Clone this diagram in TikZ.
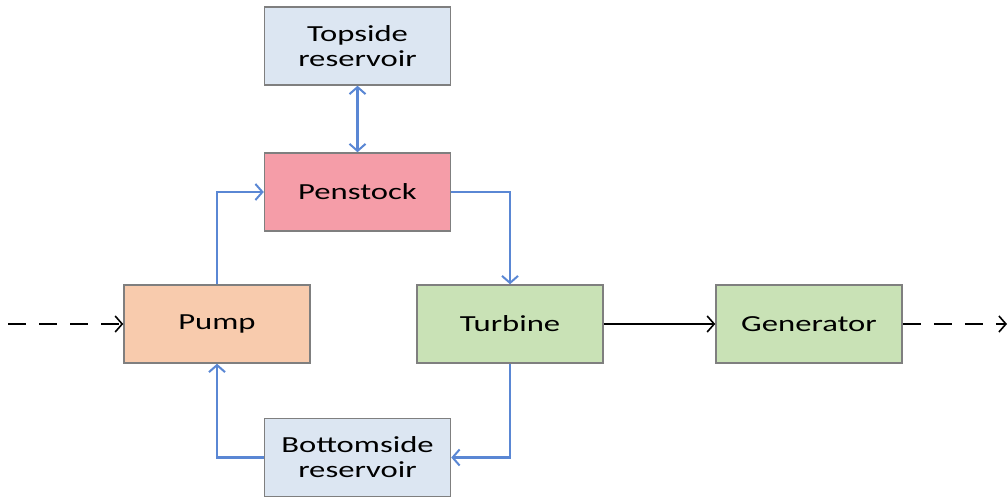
\documentclass[tikz,border=0pt]{standalone}
\usepackage{fontspec}
\setmainfont{Carlito}[FakeStretch=1.42]
\usetikzlibrary{arrows.meta}
\definecolor{boxgray}{HTML}{7F7F7F}
\definecolor{resblue}{HTML}{DCE6F2}
\definecolor{penpink}{HTML}{F59DA8}
\definecolor{pumppeach}{HTML}{F8CBAD}
\definecolor{turbgreen}{HTML}{C9E2B6}
\definecolor{flowblue}{HTML}{5A87D4}
\begin{document}
\begin{tikzpicture}[x=1pt,y=-1pt,
  box/.style={draw=boxgray, line width=1.5pt, minimum width=186pt, minimum height=78pt,
    inner sep=0pt, align=center, font=\fontsize{23}{25}\selectfont},
  flow/.style={draw=flowblue, line width=2.2pt, -{Straight Barb[length=7pt,width=16pt,line width=2pt]}},
  flowboth/.style={draw=flowblue, line width=2.2pt, {Straight Barb[length=7pt,width=16pt,line width=2pt]}-{Straight Barb[length=7pt,width=16pt,line width=2pt]}},
  mech/.style={draw=black, line width=1.6pt, -{Straight Barb[length=7pt,width=16pt,line width=1.6pt]}},
  energy/.style={mech, dash pattern=on 18pt off 13pt}]
\useasboundingbox (0,0) rectangle (1008,497);
\node[box, fill=resblue] (top) at (357.5,46) {Topside\\reservoir};
\node[box, fill=penpink] (pen) at (357.5,192) {Penstock};
\node[box, fill=pumppeach] (pump) at (217,324) {Pump};
\node[box, fill=turbgreen] (turb) at (510,324) {Turbine};
\node[box, fill=turbgreen] (gen) at (809,324) {Generator};
\node[box, fill=resblue] (bot) at (357.5,457.5) {Bottomside\\reservoir};
\coordinate (in) at (8,324);
\coordinate (out) at (1007,324);
\draw[flowboth] (top) -- (pen);
\draw[flow] (pump.north) |- (pen.west);
\draw[flow] (pen.east) -| (turb.north);
\draw[flow] (turb.south) |- (bot.east);
\draw[flow] (bot.west) -| (pump.south);
\draw[energy] (in) -- (pump.west);
\draw[mech] (turb) -- (gen);
\draw[energy] (gen.east) -- (out);
\end{tikzpicture}
\end{document}
